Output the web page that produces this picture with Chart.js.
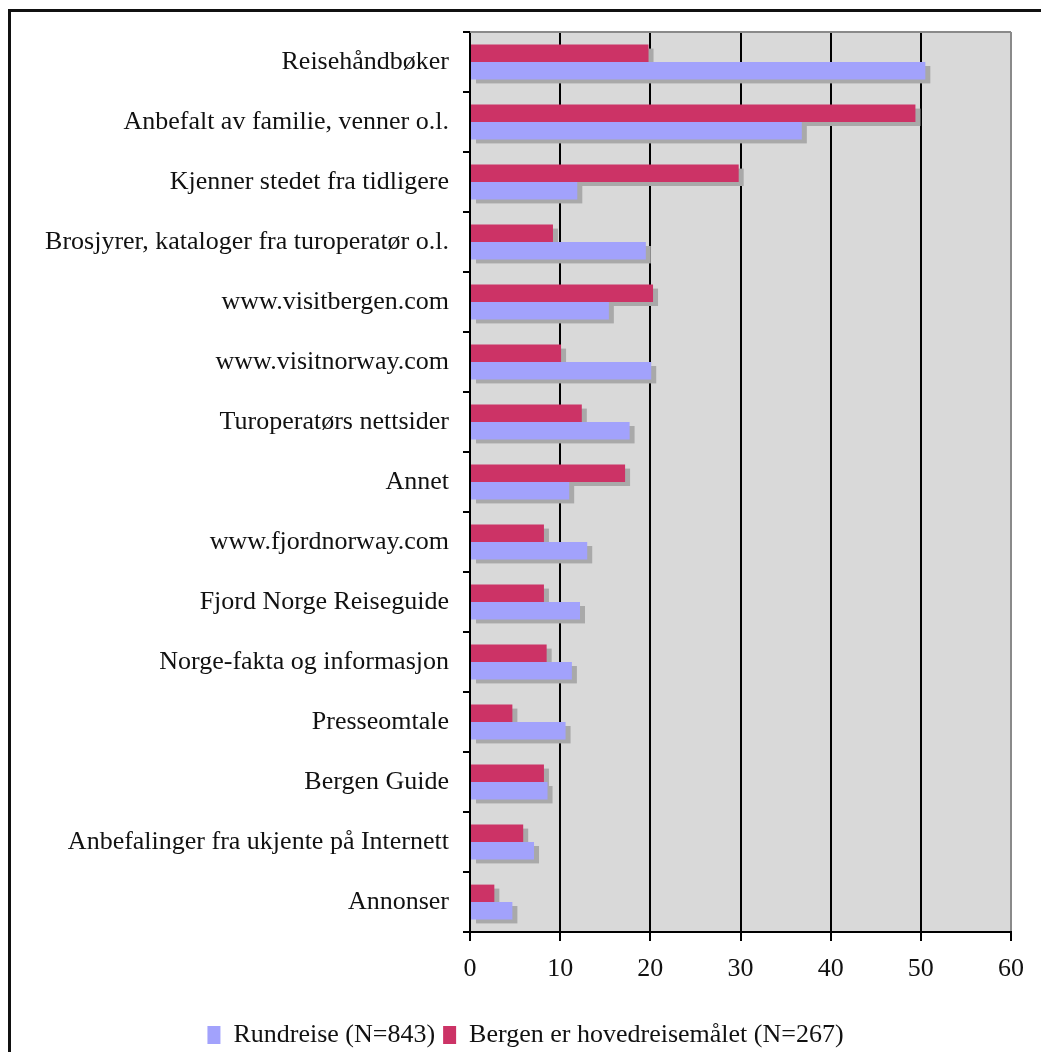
<!DOCTYPE html>
<html lang="no">
<head>
<meta charset="utf-8">
<title>Informasjonskilder</title>
<script src="https://cdn.jsdelivr.net/npm/chart.js@4"></script>
<style>
  html, body { margin: 0; padding: 0; background: #fff; overflow: hidden; }
  #ramme {
    position: absolute; left: 8px; top: 9px; width: 2000px; height: 2000px;
    border-left: 3px solid #111; border-top: 3px solid #111; pointer-events: none;
  }
</style>
</head>
<body>
<canvas id="graf" width="1041" height="1058"></canvas>
<div id="ramme"></div>
<script>
// Kategorier (ovenfra og ned) og prosentverdier per gruppe
const kategorier = [
  'Reisehåndbøker',
  'Anbefalt av familie, venner o.l.',
  'Kjenner stedet fra tidligere',
  'Brosjyrer, kataloger fra turoperatør o.l.',
  'www.visitbergen.com',
  'www.visitnorway.com',
  'Turoperatørs nettsider',
  'Annet',
  'www.fjordnorway.com',
  'Fjord Norge Reiseguide',
  'Norge-fakta og informasjon',
  'Presseomtale',
  'Bergen Guide',
  'Anbefalinger fra ukjente på Internett',
  'Annonser'
];
const rundreise = [50.5, 36.8, 11.9, 19.5, 15.4, 20.1, 17.7, 11.0, 13.0, 12.2, 11.3, 10.6, 8.6, 7.1, 4.7];
const bergen    = [19.8, 49.4, 29.8, 9.2, 20.3, 10.1, 12.4, 17.2, 8.2, 8.2, 8.5, 4.7, 8.2, 5.9, 2.7];
const serieNavn = ['Rundreise (N=843)', 'Bergen er hovedreisemålet (N=267)'];
const xVerdier = [0, 10, 20, 30, 40, 50, 60];

const skrift = 'Liberation Serif, Times New Roman, serif';

// Grå plottflate, skygger under stolpene og grå kant øverst
const bakgrunn = {
  id: 'bakgrunn',
  beforeDraw(chart) {
    const { ctx, chartArea: a } = chart;
    ctx.save();
    ctx.fillStyle = '#d9d9d9';
    ctx.fillRect(a.left, a.top, a.right - a.left, a.bottom - a.top);
    ctx.restore();
  },
  beforeDatasetsDraw(chart) {
    const ctx = chart.ctx;
    ctx.save();
    ctx.fillStyle = '#a9a9a9';
    chart.data.datasets.forEach((ds, i) => {
      chart.getDatasetMeta(i).data.forEach(el => {
        const p = el.getProps(['x', 'y', 'base', 'height'], true);
        ctx.fillRect(p.base + 5, p.y - p.height / 2 + 4, p.x - p.base, p.height);
      });
    });
    ctx.restore();
  },
  afterDraw(chart) {
    const { ctx, chartArea: a } = chart;
    ctx.save();
    ctx.strokeStyle = '#8a8a8a';
    ctx.lineWidth = 2;
    ctx.beginPath();
    ctx.moveTo(a.left, a.top);
    ctx.lineTo(a.right, a.top);
    ctx.stroke();
    ctx.restore();
  }
};

new Chart(document.getElementById('graf'), {
  type: 'bar',
  data: {
    labels: kategorier,
    datasets: [
      { label: serieNavn[1], data: bergen, backgroundColor: '#cc3366' },
      { label: serieNavn[0], data: rundreise, backgroundColor: '#a2a2fc' }
    ]
  },
  options: {
    indexAxis: 'y',
    responsive: false,
    animation: false,
    devicePixelRatio: 1,
    categoryPercentage: 0.58,
    barPercentage: 1.0,
    layout: { padding: { top: 32, right: 30, left: 40, bottom: 0 } },
    plugins: {
      tooltip: { enabled: false },
      legend: {
        position: 'bottom',
        reverse: true,
        labels: {
          font: { family: skrift, size: 26 },
          color: '#111',
          boxWidth: 13,
          boxHeight: 18,
          padding: 8
        }
      }
    },
    scales: {
      x: {
        min: xVerdier[0],
        max: xVerdier[xVerdier.length - 1],
        ticks: {
          stepSize: 10,
          color: '#111',
          padding: 13,
          font: { family: skrift, size: 26 }
        },
        grid: {
          color: c => (c.tick && c.tick.value === 60) ? '#8a8a8a' : '#000',
          tickColor: '#000',
          lineWidth: 2,
          tickLength: 9
        },
        border: { color: '#000', width: 2 },
        afterFit: s => { s.height = 82; }
      },
      y: {
        ticks: {
          color: '#111',
          padding: 14,
          font: { family: skrift, size: 26 }
        },
        grid: {
          offset: true,
          drawOnChartArea: false,
          color: '#000',
          lineWidth: 2,
          tickLength: 7
        },
        border: { color: '#000', width: 2 },
        afterFit: s => { s.width = 430; }
      }
    }
  },
  plugins: [bakgrunn]
});
</script>
</body>
</html>
